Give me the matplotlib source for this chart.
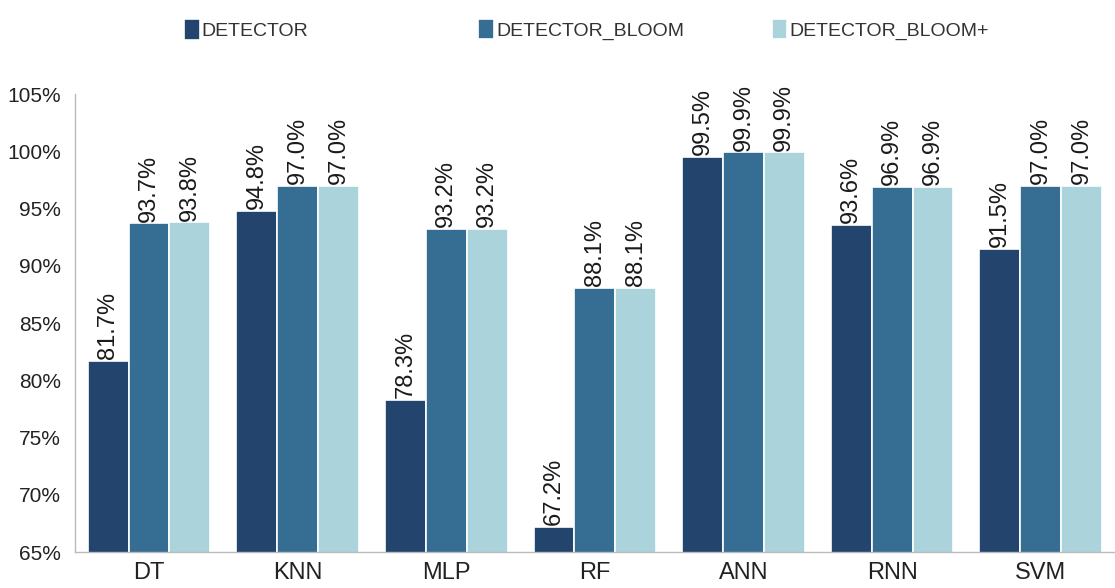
import matplotlib.pyplot as plt
import numpy as np

plt.rcParams['font.family'] = ['Liberation Sans', 'DejaVu Sans']

models = ['DT', 'KNN', 'MLP', 'RF', 'ANN', 'RNN', 'SVM']
detector = [81.7, 94.8, 78.3, 67.2, 99.5, 93.6, 91.5]
detector_bloom = [93.7, 97.0, 93.2, 88.1, 99.9, 96.9, 97.0]
detector_bloom_plus = [93.8, 97.0, 93.2, 88.1, 99.9, 96.9, 97.0]

series = [
    ('DETECTOR', detector, '#22446d'),
    ('DETECTOR_BLOOM', detector_bloom, '#356d93'),
    ('DETECTOR_BLOOM+', detector_bloom_plus, '#abd3dc'),
]

fig = plt.figure(figsize=(11.15, 5.88), dpi=100)
ax = fig.add_axes([0.067, 0.061, 0.933, 0.779])

x = np.arange(len(models))
width = 0.275
handles = []
for i, (name, vals, color) in enumerate(series):
    pos = x + (i - 1) * width
    bars = ax.bar(pos, vals, width, color=color, edgecolor='white', linewidth=1.2, label=name)
    handles.append(bars)
    for px, v in zip(pos, vals):
        ax.text(px, v + 0.15, f'{v:.1f}%', rotation=90, ha='center', va='bottom',
                fontsize=17, color='#1a1a1a')

ax.set_ylim(65, 105)
ax.set_xlim(-0.5, len(models) - 0.5)
ax.set_yticks(np.arange(65, 106, 5))
ax.set_yticklabels([f'{t}%' for t in range(65, 106, 5)], fontsize=15, color='#222222')
ax.set_xticks(x)
ax.set_xticklabels(models, fontsize=17, color='#222222')
ax.tick_params(axis='x', length=0, pad=7)
ax.tick_params(axis='y', length=0, pad=10)

for side in ['top', 'right']:
    ax.spines[side].set_visible(False)
for side in ['left', 'bottom']:
    ax.spines[side].set_color('#bbbbbb')
    ax.spines[side].set_linewidth(1)

# one legend entry per column, evenly spaced across the top
for (name, _, _), h, xa in zip(series, handles, [0.165, 0.429, 0.692]):
    fig.legend([h], [name], loc='center left', bbox_to_anchor=(xa, 0.95), frameon=False,
               fontsize=14, handlelength=0.8, handleheight=1.25, handletextpad=0.12,
               labelcolor='#333333', borderaxespad=0, borderpad=0)

fig.savefig('out.png', dpi=100)
